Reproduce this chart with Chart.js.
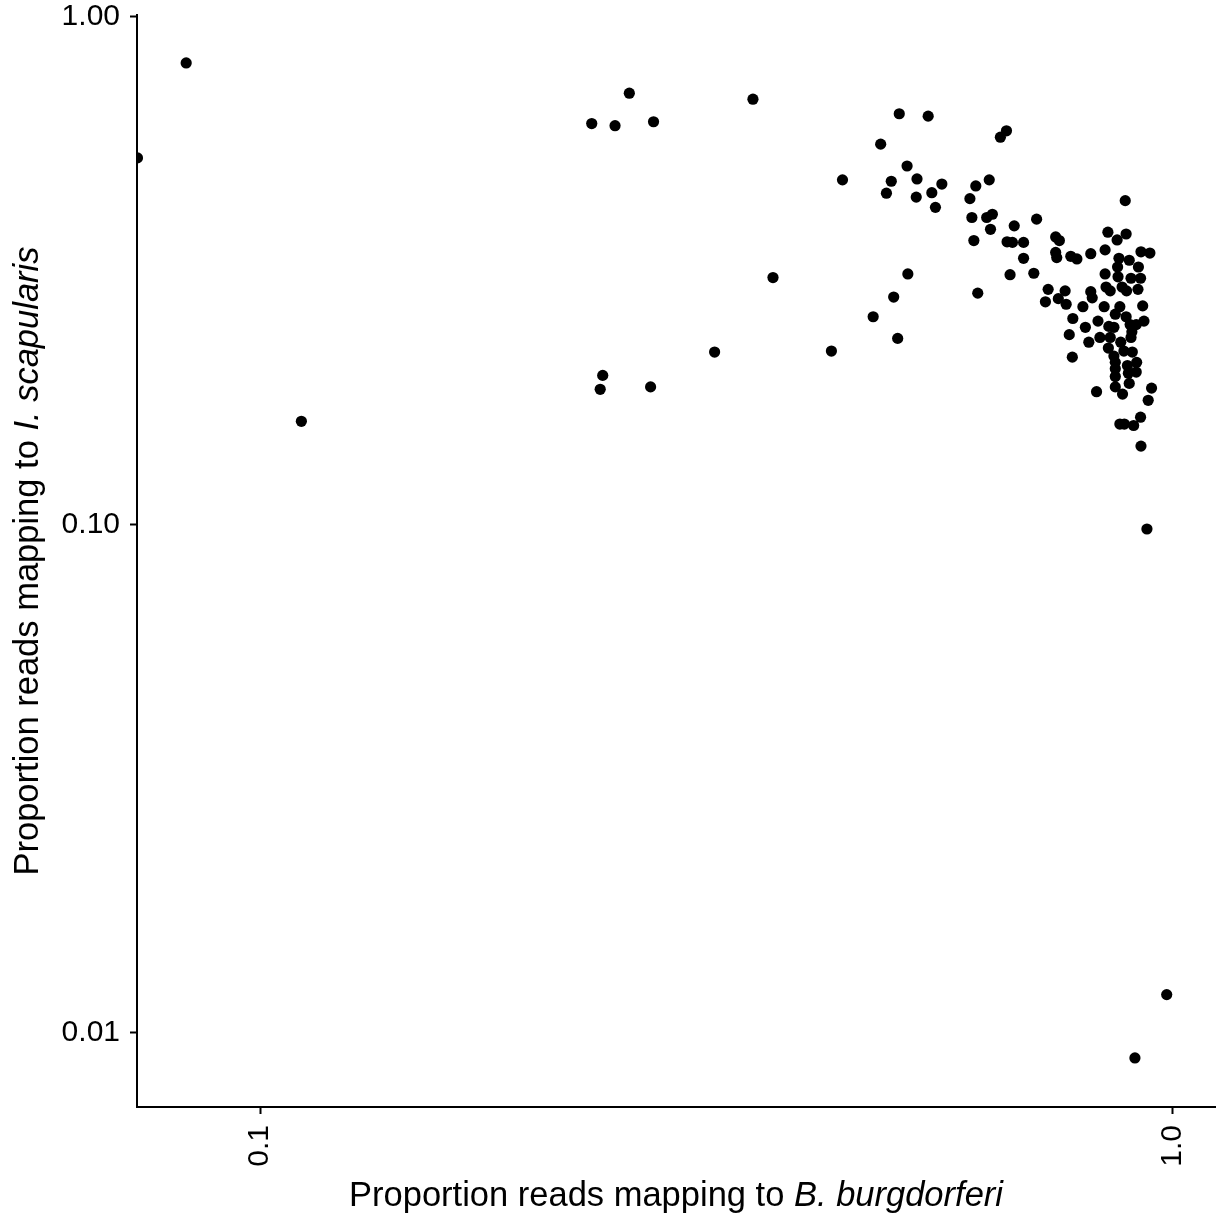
<!DOCTYPE html>
<html>
<head>
<meta charset="utf-8">
<title>Proportion of reads mapping</title>
<script src="https://cdn.jsdelivr.net/npm/chart.js@4.4.1/dist/chart.umd.min.js"></script>
<style>
  html, body { margin: 0; padding: 0; background: #ffffff; }
  #wrap { width: 1222px; height: 1220px; }
</style>
</head>
<body>
<div id="wrap"><canvas id="myChart" width="1222" height="1220"></canvas></div>
<script>
// proportion of reads mapping to B. burgdorferi (x) and I. scapularis (y), one entry per sample
const bbProportion = [
  0.0734, 0.0830, 0.111, 0.231, 0.245, 0.254, 0.270, 0.347, 0.435, 0.365,
  0.315, 0.423, 0.2375, 0.236, 0.268, 0.938, 0.986, 0.910,
  0.502, 0.540, 0.479, 0.658, 0.648, 0.512, 0.492, 0.525, 0.559, 0.486,
  0.524, 0.545, 0.550, 0.609, 0.630, 0.600, 0.603, 0.626, 0.635, 0.632,
  0.606, 0.671, 0.710, 0.659, 0.668, 0.687, 0.687, 0.664, 0.705, 0.745,
  0.752, 0.745, 0.747, 0.513, 0.495, 0.612, 0.470, 0.500, 0.888,
  0.850, 0.890, 0.870, 0.844, 0.924, 0.945, 0.874, 0.897, 0.814, 0.774,
  0.786, 0.918, 0.871, 0.844, 0.872, 0.901, 0.923, 0.846, 0.855, 0.881,
  0.891, 0.917, 0.814, 0.817, 0.731, 0.726, 0.763, 0.750, 0.765, 0.798,
  0.842, 0.876, 0.866, 0.890, 0.928, 0.778, 0.829, 0.931, 0.899, 0.913,
  0.852, 0.863, 0.803, 0.771, 0.903, 0.901, 0.855, 0.833, 0.810, 0.878,
  0.851, 0.885, 0.904, 0.863, 0.777, 0.866, 0.893, 0.914, 0.866, 0.913,
  0.895, 0.866, 0.866, 0.897, 0.882, 0.826, 0.949, 0.941, 0.923, 0.876,
  0.886, 0.907, 0.924
];
const isProportion = [
  0.528, 0.812, 0.160, 0.617, 0.611, 0.708, 0.622, 0.689, 0.478, 0.307,
  0.219, 0.220, 0.197, 0.185, 0.187, 0.0982, 0.0119, 0.00893,
  0.645, 0.638, 0.562, 0.597, 0.580, 0.509, 0.475, 0.480, 0.469, 0.450,
  0.442, 0.451, 0.422, 0.465, 0.478, 0.439, 0.403, 0.403, 0.409, 0.382,
  0.363, 0.388, 0.400, 0.361, 0.360, 0.360, 0.335, 0.311, 0.313, 0.369,
  0.363, 0.344, 0.336, 0.312, 0.281, 0.286, 0.257, 0.233, 0.435,
  0.377, 0.374, 0.364, 0.348, 0.345, 0.343, 0.335, 0.332, 0.342, 0.338,
  0.334, 0.322, 0.322, 0.312, 0.308, 0.306, 0.306, 0.294, 0.289, 0.294,
  0.289, 0.291, 0.288, 0.280, 0.291, 0.275, 0.289, 0.279, 0.272, 0.269,
  0.269, 0.269, 0.260, 0.257, 0.270, 0.255, 0.252, 0.252, 0.248, 0.248,
  0.246, 0.245, 0.245, 0.237, 0.240, 0.234, 0.234, 0.234, 0.229, 0.229,
  0.223, 0.220, 0.219, 0.215, 0.214, 0.209, 0.206, 0.209, 0.203, 0.200,
  0.199, 0.196, 0.187, 0.190, 0.181, 0.183, 0.186, 0.176, 0.163, 0.158,
  0.158, 0.157, 0.143
];

const xTicks = [0.1, 1.0];
const xTickLabels = ["0.1", "1.0"];
const yTicks = [0.01, 0.1, 1.0];
const yTickLabels = ["0.01", "0.10", "1.00"];

const xTitle = [
  { text: "Proportion reads mapping to ", italic: false },
  { text: "B. burgdorferi", italic: true }
];
const yTitle = [
  { text: "Proportion reads mapping to ", italic: false },
  { text: "I. scapularis", italic: true }
];

const fontFamily = "'Liberation Sans', Arial, Helvetica, sans-serif";
const titleSize = 34.5;
const tickSize = 30;

const points = bbProportion.map((x, i) => ({ x: x, y: isProportion[i] }));

// writes a title made of plain and italic pieces, centred on (cx, baseline)
function drawTitle(ctx, parts, cx, baseline) {
  const fonts = parts.map(p => (p.italic ? "italic " : "") + titleSize + "px " + fontFamily);
  const widths = parts.map((p, i) => { ctx.font = fonts[i]; return ctx.measureText(p.text).width; });
  const total = widths.reduce((a, b) => a + b, 0);
  let x = cx - total / 2;
  ctx.fillStyle = "#000";
  ctx.textBaseline = "alphabetic";
  ctx.textAlign = "left";
  parts.forEach((p, i) => {
    ctx.font = fonts[i];
    ctx.fillText(p.text, x, baseline);
    x += widths[i];
  });
}

const axisTitles = {
  id: "axisTitles",
  afterDraw(chart) {
    const ctx = chart.ctx;
    const area = chart.chartArea;
    ctx.save();
    drawTitle(ctx, xTitle, (area.left + area.right) / 2, 1206);
    ctx.translate(38, (area.top + area.bottom) / 2);
    ctx.rotate(-Math.PI / 2);
    drawTitle(ctx, yTitle, 0, 0);
    ctx.restore();
  }
};

const tickFont = { family: fontFamily, size: tickSize, lineHeight: 1 };
const axisGrid = {
  drawOnChartArea: false,
  drawTicks: true,
  tickLength: 7,
  tickWidth: 2,
  tickColor: "#000",
  color: "#000"
};
const axisBorder = { display: true, color: "#000", width: 2 };

new Chart(document.getElementById("myChart"), {
  type: "scatter",
  data: {
    datasets: [{
      data: points,
      backgroundColor: "#000",
      borderWidth: 0,
      pointRadius: 5.6,
      pointHoverRadius: 5.6,
      clip: 0
    }]
  },
  options: {
    responsive: false,
    animation: false,
    devicePixelRatio: 1,
    layout: { padding: { top: 15, right: 7, bottom: 0, left: 0 } },
    plugins: {
      legend: { display: false },
      tooltip: { enabled: false }
    },
    scales: {
      x: {
        type: "logarithmic",
        min: 0.07331,
        max: 1.1138,
        afterBuildTicks: s => { s.ticks = xTicks.map(v => ({ value: v })); },
        afterFit: s => { s.height = 113; s.paddingLeft = 0; s.paddingRight = 0; },
        ticks: {
          callback: (v, i) => xTickLabels[i],
          autoSkip: false,
          minRotation: 90,
          maxRotation: 90,
          padding: 11,
          color: "#000",
          font: tickFont
        },
        grid: axisGrid,
        border: axisBorder
      },
      y: {
        type: "logarithmic",
        min: 0.0071504,
        max: 1.0091,
        afterBuildTicks: s => { s.ticks = yTicks.map(v => ({ value: v })); },
        afterFit: s => { s.width = 137; s.paddingTop = 0; s.paddingBottom = 0; },
        ticks: {
          callback: (v, i) => yTickLabels[i],
          autoSkip: false,
          padding: 10,
          color: "#000",
          font: tickFont
        },
        grid: axisGrid,
        border: axisBorder
      }
    }
  },
  plugins: [axisTitles]
});
</script>
</body>
</html>
